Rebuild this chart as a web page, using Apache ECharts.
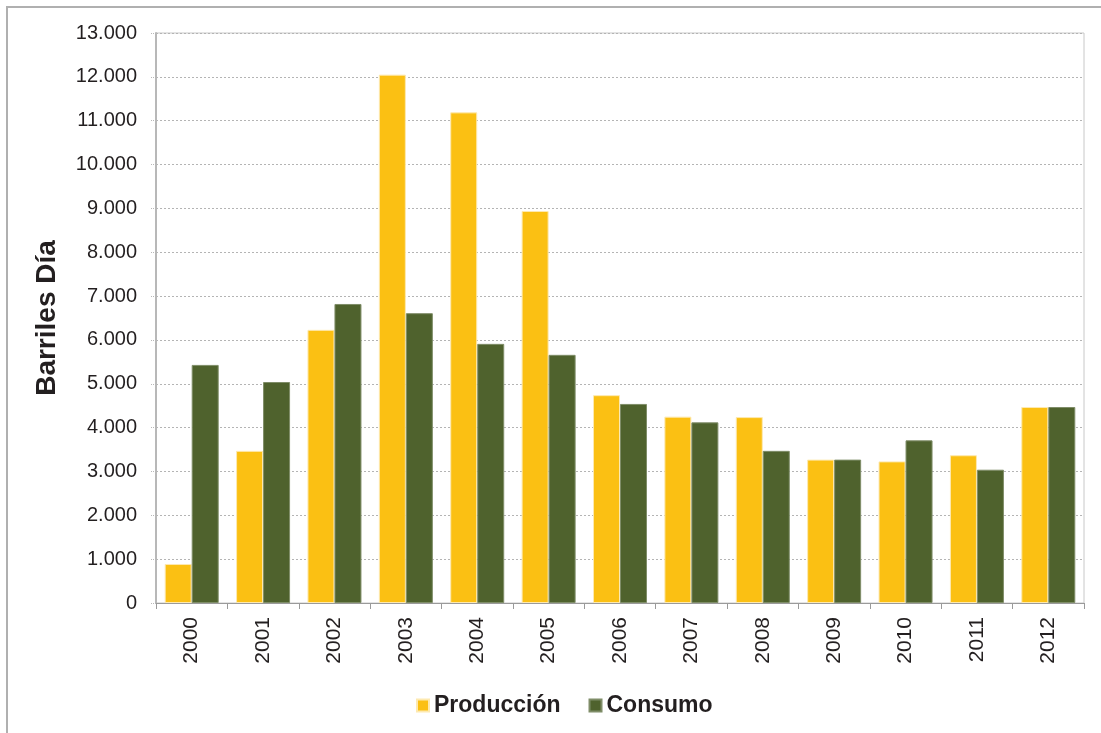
<!DOCTYPE html>
<html>
<head>
<meta charset="utf-8">
<style>html,body{margin:0;padding:0;background:#fff;}#chart{width:1101px;height:733px;}</style>
<script src="https://cdn.jsdelivr.net/npm/echarts@6/dist/echarts.min.js"></script>
</head>
<body>
<div id="chart"></div>
<script>
const years = ['2000','2001','2002','2003','2004','2005','2006','2007','2008','2009','2010','2011','2012'];
const produccion = [890, 3470, 6230, 12050, 11190, 8940, 4740, 4250, 4240, 3270, 3230, 3370, 4470];
const consumo = [5430, 5040, 6820, 6610, 5910, 5660, 4540, 4120, 3470, 3270, 3710, 3040, 4470];
const seriesNames = ['Producción', 'Consumo'];
const yAxisName = 'Barriles Día';

function fmt(v){ return String(v).replace(/\B(?=(\d{3})+(?!\d))/g, '.'); }

const chart = echarts.init(document.getElementById('chart'), null, {renderer:'canvas'});
const font = 'Liberation Sans, Arial, sans-serif';
chart.setOption({
  animation: false,
  backgroundColor: '#fff',
  graphic: [{
    type: 'rect', silent: true,
    shape: {x: 7, y: 7, width: 1200, height: 800},
    style: {fill: 'none', stroke: '#b0b0b0', lineWidth: 2}
  }],
  grid: {left: 156, right: 17, top: 33, bottom: 130, show: true, borderColor: '#c8c8c8', borderWidth: 1, backgroundColor: 'transparent'},
  legend: {
    bottom: 11, left: 411, itemWidth: 12, itemHeight: 12, itemGap: 28,
    icon: 'rect',
    textStyle: {fontFamily: font, fontSize: 23, fontWeight: 'bold', color: '#231f20'},
    data: seriesNames
  },
  xAxis: {
    type: 'category', data: years,
    axisLine: {lineStyle: {color: '#9a9a9a', width: 1}},
    axisTick: {show: true, length: 6, lineStyle: {color: '#9a9a9a'}},
    axisLabel: {rotate: 90, fontFamily: font, fontSize: 21, color: '#231f20', margin: 14}
  },
  yAxis: {
    type: 'value', min: 0, max: 13000, interval: 1000,
    name: yAxisName, nameLocation: 'middle', nameGap: 95,
    nameTextStyle: {fontFamily: font, fontSize: 28, fontWeight: 'bold', color: '#231f20'},
    axisLine: {show: true, lineStyle: {color: '#b8b8b8', width: 2}},
    axisTick: {show: true, length: 6, lineStyle: {color: '#b8b8b8', type: 'dotted'}},
    axisLabel: {fontFamily: font, fontSize: 20, color: '#231f20', margin: 19, formatter: v => fmt(v)},
    splitLine: {lineStyle: {color: '#b4b4b4', type: [2, 2], width: 1}}
  },
  series: [
    {name: seriesNames[0], type: 'bar', data: produccion, barWidth: 27, barGap: '0%',
     itemStyle: {color: '#fbc013', borderColor: '#fde9b0', borderWidth: 1}},
    {name: seriesNames[1], type: 'bar', data: consumo, barWidth: 27,
     itemStyle: {color: '#4f622d', borderColor: '#7f8d68', borderWidth: 1}}
  ]
});
</script>
</body>
</html>
